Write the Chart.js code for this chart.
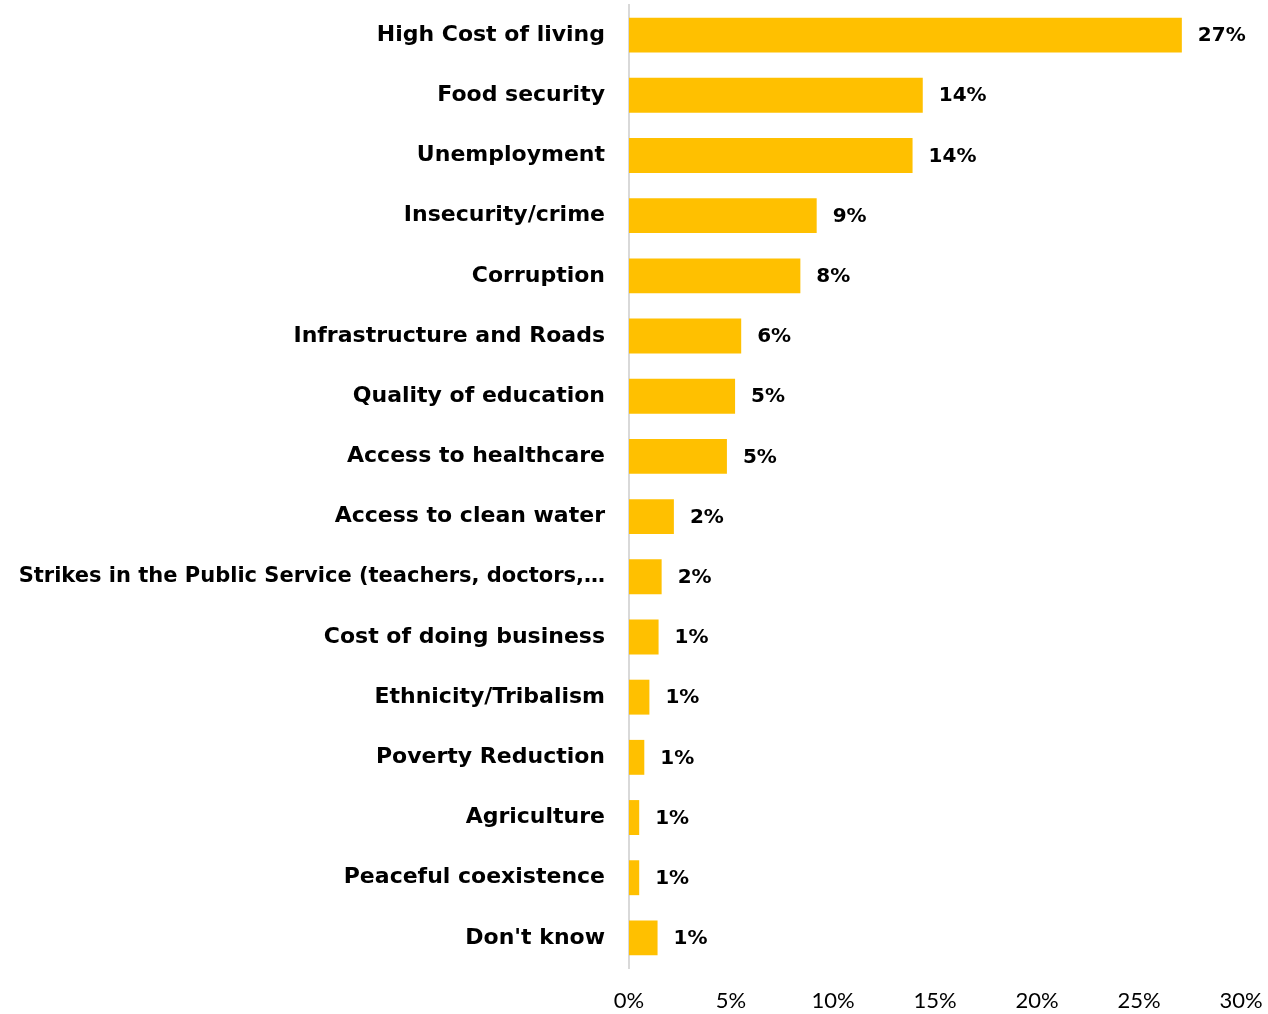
<!DOCTYPE html>
<html>
<head>
<meta charset="utf-8">
<script src="https://cdn.jsdelivr.net/npm/chart.js@4/dist/chart.umd.min.js"></script>
<style>
html,body{margin:0;padding:0;background:#fff;}
#wrap{width:1268px;height:1014px;position:relative;}
</style>
</head>
<body>
<div id="wrap"><canvas id="c" width="1268" height="1014"></canvas></div>
<script>
const categories = [
  "High Cost of living",
  "Food security",
  "Unemployment",
  "Insecurity/crime",
  "Corruption",
  "Infrastructure and Roads",
  "Quality of education",
  "Access to healthcare",
  "Access to clean water",
  "Strikes in the Public Service (teachers, doctors,…",
  "Cost of doing business",
  "Ethnicity/Tribalism",
  "Poverty Reduction",
  "Agriculture",
  "Peaceful coexistence",
  "Don't know"
];
const values = [27.1, 14.4, 13.9, 9.2, 8.4, 5.5, 5.2, 4.8, 2.2, 1.6, 1.45, 1.0, 0.75, 0.5, 0.5, 1.4];
const valueLabels = ["27%","14%","14%","9%","8%","6%","5%","5%","2%","2%","1%","1%","1%","1%","1%","1%"];
const xTicks = [0, 5, 10, 15, 20, 25, 30];

const LABEL_FONT = "'DejaVu Sans', sans-serif";
const TICK_FONT = "Lato, 'Open Sans', sans-serif";

const dataLabelPlugin = {
  id: 'dataLabels',
  afterDatasetsDraw(chart) {
    const ctx = chart.ctx;
    const meta = chart.getDatasetMeta(0);
    ctx.save();
    ctx.font = "bold 20px " + LABEL_FONT;
    ctx.fillStyle = "#000";
    ctx.textAlign = "left";
    ctx.textBaseline = "middle";
    meta.data.forEach((bar, i) => {
      ctx.fillText(valueLabels[i], bar.x + 16, bar.y + 1);
    });
    ctx.restore();
  }
};

new Chart(document.getElementById('c'), {
  type: 'bar',
  data: {
    labels: categories,
    datasets: [{
      data: values,
      backgroundColor: '#FFC000',
      borderWidth: 0,
      categoryPercentage: 0.58,
      barPercentage: 1.0
    }]
  },
  options: {
    indexAxis: 'y',
    responsive: false,
    animation: false,
    devicePixelRatio: 1,
    layout: { padding: { top: 5, left: 0, right: 27, bottom: 0 } },
    plugins: { legend: { display: false }, tooltip: { enabled: false } },
    scales: {
      x: {
        min: 0, max: 30,
        afterBuildTicks(scale) { scale.ticks = xTicks.map(v => ({ value: v })); },
        afterFit(scale) { scale.height = 46; scale.paddingLeft = 0; scale.paddingRight = 0; },
        grid: { display: false, drawTicks: false },
        border: { display: false },
        ticks: {
          padding: 20,
          color: '#000',
          font: { family: TICK_FONT, size: 22 },
          callback: (v) => v + '%'
        }
      },
      y: {
        afterFit(scale) { scale.width = 629; scale.paddingTop = 0; scale.paddingBottom = 0; },
        grid: { display: false, drawTicks: false },
        border: { display: true, color: '#d9d9d9', width: 2 },
        ticks: {
          padding: 24,
          color: '#000',
          font: (c) => ({
            family: LABEL_FONT,
            size: (c.index !== undefined && categories[c.index] && categories[c.index].length > 30) ? 21 : 22,
            weight: 'bold'
          })
        }
      }
    }
  },
  plugins: [dataLabelPlugin]
});
</script>
</body>
</html>
